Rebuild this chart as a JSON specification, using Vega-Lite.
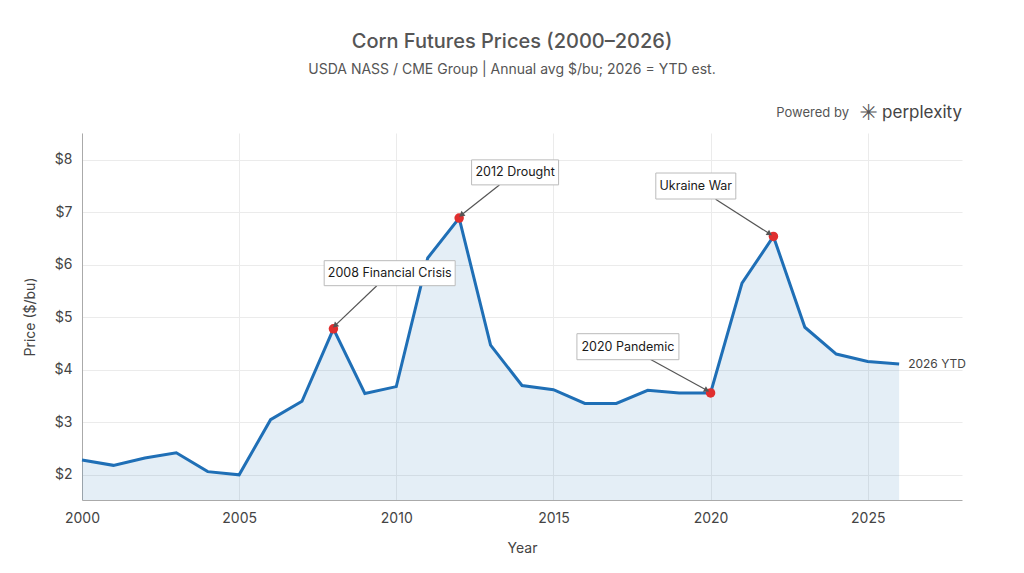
{
  "$schema": "https://vega.github.io/schema/vega-lite/v6.json",
  "width": 880,
  "height": 367,
  "autosize": {"type": "none"},
  "padding": {"left": 82, "top": 133, "right": 62, "bottom": 73},
  "background": "white",
  "config": {"font": "Inter", "view": {"stroke": null}},
  "title": {
    "text": "Corn Futures Prices (2000–2026)",
    "subtitle": "USDA NASS / CME Group | Annual avg $/bu; 2026 = YTD est.",
    "anchor": "middle",
    "dx": -10,
    "offset": 25,
    "fontSize": 20,
    "fontWeight": 500,
    "color": "#555555",
    "subtitleFontSize": 14,
    "subtitleColor": "#555555",
    "subtitlePadding": 11
  },
  "datasets": {
    "prices": [
      {"year": 2000, "price": 2.28},
      {"year": 2001, "price": 2.18},
      {"year": 2002, "price": 2.32},
      {"year": 2003, "price": 2.42},
      {"year": 2004, "price": 2.06},
      {"year": 2005, "price": 2.00},
      {"year": 2006, "price": 3.05},
      {"year": 2007, "price": 3.40},
      {"year": 2008, "price": 4.78},
      {"year": 2009, "price": 3.55},
      {"year": 2010, "price": 3.68},
      {"year": 2011, "price": 6.13},
      {"year": 2012, "price": 6.89},
      {"year": 2013, "price": 4.47},
      {"year": 2014, "price": 3.70},
      {"year": 2015, "price": 3.62},
      {"year": 2016, "price": 3.36},
      {"year": 2017, "price": 3.36},
      {"year": 2018, "price": 3.61},
      {"year": 2019, "price": 3.56},
      {"year": 2020, "price": 3.56},
      {"year": 2021, "price": 5.65},
      {"year": 2022, "price": 6.54},
      {"year": 2023, "price": 4.81},
      {"year": 2024, "price": 4.30},
      {"year": 2025, "price": 4.16},
      {"year": 2026, "price": 4.11}
    ],
    "events": [
      {"label": "2008 Financial Crisis", "year": 2008, "price": 4.78, "lx": 2009.79, "ly": 5.84, "ax": 2009.38, "ay": 5.60, "tx": 2008.05, "ty": 4.84, "angle": 228},
      {"label": "2012 Drought", "year": 2012, "price": 6.89, "lx": 2013.78, "ly": 7.76, "ax": 2013.28, "ay": 7.52, "tx": 2012.07, "ty": 6.95, "angle": 231},
      {"label": "Ukraine War", "year": 2022, "price": 6.54, "lx": 2019.53, "ly": 7.50, "ax": 2020.16, "ay": 7.25, "tx": 2021.88, "ty": 6.59, "angle": 123},
      {"label": "2020 Pandemic", "year": 2020, "price": 3.56, "lx": 2017.37, "ly": 4.44, "ax": 2018.08, "ay": 4.20, "tx": 2019.88, "ty": 3.61, "angle": 119}
    ],
    "notes": [
      {"text": "2026 YTD", "year": 2026, "price": 4.11}
    ],
    "brand": [
      {"part": "perplexity", "year": 2028, "price": 8.89}
    ]
  },
  "layer": [
    {
      "data": {"name": "prices"},
      "mark": {"type": "area", "color": "#1f77b4", "opacity": 0.12, "clip": true},
      "encoding": {
        "x": {
          "field": "year", "type": "quantitative",
          "scale": {"domain": [2000, 2028], "nice": false, "zero": false},
          "axis": {
            "values": [2000, 2005, 2010, 2015, 2020, 2025],
            "format": "d",
            "title": "Year",
            "ticks": false,
            "labelFlush": false,
            "domainColor": "#aaaaaa",
            "gridColor": "#ebebeb",
            "labelFontSize": 14,
            "labelColor": "#444444",
            "labelPadding": 11,
            "titleFontSize": 14,
            "titleFontWeight": "normal",
            "titleColor": "#444444",
            "titlePadding": 16
          }
        },
        "y": {
          "field": "price", "type": "quantitative",
          "scale": {"domain": [1.52, 8.51], "nice": false, "zero": false},
          "axis": {
            "values": [2, 3, 4, 5, 6, 7, 8],
            "labelExpr": "'$' + datum.value",
            "title": "Price ($/bu)",
            "ticks": false,
            "domainColor": "#aaaaaa",
            "gridColor": "#ebebeb",
            "labelFontSize": 14,
            "labelColor": "#444444",
            "labelPadding": 10,
            "titleFontSize": 14,
            "titleFontWeight": "normal",
            "titleColor": "#444444",
            "titlePadding": 16
          }
        },
        "y2": {"datum": 1.52}
      }
    },
    {
      "data": {"name": "prices"},
      "mark": {"type": "line", "color": "#1f6fb6", "strokeWidth": 3},
      "encoding": {
        "x": {"field": "year", "type": "quantitative"},
        "y": {"field": "price", "type": "quantitative"}
      }
    },
    {
      "data": {"name": "events"},
      "mark": {"type": "rule", "color": "#555555", "strokeWidth": 1.2},
      "encoding": {
        "x": {"field": "ax", "type": "quantitative"},
        "y": {"field": "ay", "type": "quantitative"},
        "x2": {"field": "tx"},
        "y2": {"field": "ty"}
      }
    },
    {
      "data": {"name": "events"},
      "mark": {"type": "circle", "color": "#e02f2f", "size": 90, "opacity": 1},
      "encoding": {
        "x": {"field": "year", "type": "quantitative"},
        "y": {"field": "price", "type": "quantitative"}
      }
    },
    {
      "data": {"name": "events"},
      "mark": {"type": "point", "shape": "triangle-up", "filled": true, "color": "#555555", "size": 40, "opacity": 1},
      "encoding": {
        "x": {"field": "tx", "type": "quantitative"},
        "y": {"field": "ty", "type": "quantitative"},
        "angle": {"field": "angle", "type": "quantitative", "scale": null}
      }
    },
    {
      "data": {"name": "events"},
      "transform": [{"filter": "datum.label == '2008 Financial Crisis'"}],
      "mark": {"type": "rect", "width": 131, "height": 25, "fill": "white", "stroke": "#bbbbbb", "strokeWidth": 1},
      "encoding": {
        "x": {"field": "lx", "type": "quantitative"},
        "y": {"field": "ly", "type": "quantitative"}
      }
    },
    {
      "data": {"name": "events"},
      "transform": [{"filter": "datum.label == '2012 Drought'"}],
      "mark": {"type": "rect", "width": 87, "height": 25, "fill": "white", "stroke": "#bbbbbb", "strokeWidth": 1},
      "encoding": {
        "x": {"field": "lx", "type": "quantitative"},
        "y": {"field": "ly", "type": "quantitative"}
      }
    },
    {
      "data": {"name": "events"},
      "transform": [{"filter": "datum.label == 'Ukraine War'"}],
      "mark": {"type": "rect", "width": 80, "height": 26, "fill": "white", "stroke": "#bbbbbb", "strokeWidth": 1},
      "encoding": {
        "x": {"field": "lx", "type": "quantitative"},
        "y": {"field": "ly", "type": "quantitative"}
      }
    },
    {
      "data": {"name": "events"},
      "transform": [{"filter": "datum.label == '2020 Pandemic'"}],
      "mark": {"type": "rect", "width": 102, "height": 26, "fill": "white", "stroke": "#bbbbbb", "strokeWidth": 1},
      "encoding": {
        "x": {"field": "lx", "type": "quantitative"},
        "y": {"field": "ly", "type": "quantitative"}
      }
    },
    {
      "data": {"name": "events"},
      "mark": {"type": "text", "fontSize": 12.5, "fontWeight": "normal", "color": "#1a1a1a", "align": "center", "baseline": "middle"},
      "encoding": {
        "x": {"field": "lx", "type": "quantitative"},
        "y": {"field": "ly", "type": "quantitative"},
        "text": {"field": "label"}
      }
    },
    {
      "data": {"name": "notes"},
      "mark": {"type": "text", "fontSize": 12, "color": "#444444", "align": "left", "baseline": "middle", "dx": 9},
      "encoding": {
        "x": {"field": "year", "type": "quantitative"},
        "y": {"field": "price", "type": "quantitative"},
        "text": {"field": "text"}
      }
    },
    {
      "data": {"name": "brand"},
      "mark": {"type": "text", "fontSize": 17, "color": "#444444", "align": "right", "baseline": "middle", "clip": false},
      "encoding": {
        "x": {"field": "year", "type": "quantitative"},
        "y": {"field": "price", "type": "quantitative"},
        "text": {"field": "part"}
      }
    },
    {
      "data": {"name": "brand"},
      "mark": {"type": "text", "font": "DejaVu Sans", "fontSize": 22, "color": "#555555", "align": "right", "baseline": "middle", "dx": -84, "clip": false},
      "encoding": {
        "x": {"field": "year", "type": "quantitative"},
        "y": {"field": "price", "type": "quantitative"},
        "text": {"value": "✳"}
      }
    },
    {
      "data": {"name": "brand"},
      "mark": {"type": "text", "fontSize": 13, "color": "#555555", "align": "right", "baseline": "middle", "dx": -113, "clip": false},
      "encoding": {
        "x": {"field": "year", "type": "quantitative"},
        "y": {"field": "price", "type": "quantitative"},
        "text": {"value": "Powered by"}
      }
    }
  ]
}
